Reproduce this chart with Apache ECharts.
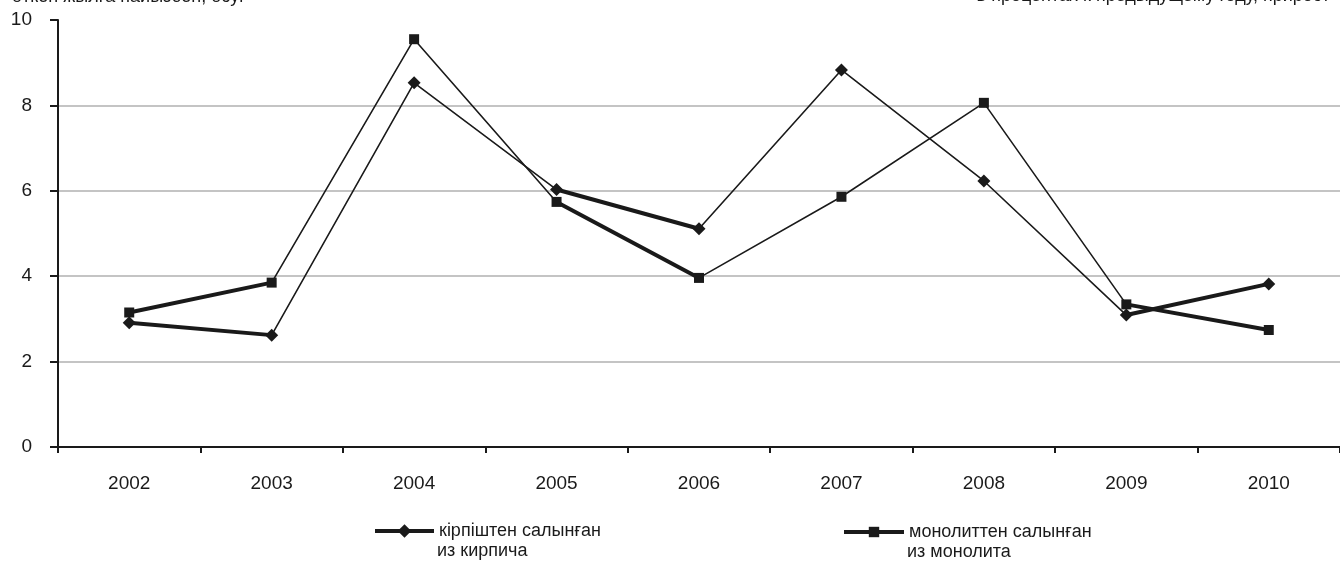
<!DOCTYPE html>
<html>
<head>
<meta charset="utf-8">
<script src="https://cdn.jsdelivr.net/npm/echarts@6/dist/echarts.min.js"></script>
<style>
html,body{margin:0;padding:0;background:#fff;}
#chart{width:1340px;height:561px;}
</style>
</head>
<body>
<div id="chart"></div>
<script>
const years = ['2002','2003','2004','2005','2006','2007','2008','2009','2010'];
const brick = [2.91, 2.62, 8.53, 6.03, 5.11, 8.83, 6.23, 3.09, 3.82];
const monolith = [3.15, 3.85, 9.55, 5.74, 3.96, 5.86, 8.06, 3.34, 2.74];
const brickName = 'кірпіштен салынған';
const brickName2 = 'из кирпича';
const monolithName = 'монолиттен салынған';
const monolithName2 = 'из монолита';
const titleLeft = 'өткен жылға пайызбен, өсуі -';
const titleRight = 'в процентах к предыдущему году, прирост';
const yMin = 0, yMax = 10, yStep = 2;
// segments (start index) drawn with a heavier stroke in the original
const heavySegmentStarts = [0, 3, 7];

function heavyData(values) {
  return values.map((v, i) => heavySegmentStarts.some(s => i === s || i === s + 1) ? v : null);
}

const FONT = '"Liberation Sans", Arial, sans-serif';
const INK = '#1a1a1a';

const chart = echarts.init(document.getElementById('chart'), null, {renderer: 'canvas'});
chart.setOption({
  animation: false,
  backgroundColor: '#fff',
  textStyle: {fontFamily: FONT},
  grid: {left: 58, top: 20, width: 1284, height: 427, containLabel: false},
  graphic: [
    {type: 'text', left: 12, top: -12, style: {text: titleLeft, font: '18px ' + FONT, fill: INK}},
    {type: 'text', right: 10, top: -13, style: {text: titleRight, font: '18px ' + FONT, fill: INK}},
    {type: 'text', left: 437, top: 542, style: {text: brickName2, font: '18px ' + FONT, fill: INK}},
    {type: 'text', left: 907, top: 543, style: {text: monolithName2, font: '18px ' + FONT, fill: INK}}
  ],
  legend: [
    {
      data: [brickName], left: 373, top: 522, padding: 0, itemWidth: 59, itemHeight: 17,
      lineStyle: {width: 4, color: INK},
      textStyle: {fontSize: 18, lineHeight: 17, color: INK, fontFamily: FONT}
    },
    {
      data: [monolithName], left: 842, top: 523, padding: 0, itemWidth: 60, itemHeight: 13,
      lineStyle: {width: 4, color: INK},
      textStyle: {fontSize: 18, lineHeight: 17, color: INK, fontFamily: FONT}
    }
  ],
  xAxis: {
    type: 'category',
    data: years,
    boundaryGap: true,
    axisLine: {show: true, lineStyle: {color: INK, width: 2}},
    axisTick: {show: true, length: 6, inside: false, lineStyle: {color: INK, width: 2}},
    axisLabel: {fontSize: 19, color: INK, margin: 27, fontFamily: FONT},
    splitLine: {show: false}
  },
  yAxis: {
    type: 'value',
    min: yMin, max: yMax, interval: yStep,
    axisLine: {show: true, lineStyle: {color: INK, width: 2}},
    axisTick: {show: true, length: 8, inside: false, lineStyle: {color: INK, width: 2}},
    axisLabel: {fontSize: 19, color: INK, margin: 26, fontFamily: FONT},
    splitLine: {show: true, showMaxLine: false, lineStyle: {color: '#c4c4c4', width: 2}}
  },
  series: [
    {
      name: 'brick-heavy', type: 'line', data: heavyData(brick), showSymbol: false, symbol: 'none',
      connectNulls: false, lineStyle: {color: INK, width: 4}, z: 2, silent: true
    },
    {
      name: 'monolith-heavy', type: 'line', data: heavyData(monolith), showSymbol: false, symbol: 'none',
      connectNulls: false, lineStyle: {color: INK, width: 4}, z: 2, silent: true
    },
    {
      name: brickName, type: 'line', data: brick, symbol: 'diamond', symbolSize: 13,
      itemStyle: {color: INK}, lineStyle: {color: INK, width: 1.6}, z: 3
    },
    {
      name: monolithName, type: 'line', data: monolith, symbol: 'rect', symbolSize: 10,
      itemStyle: {color: INK}, lineStyle: {color: INK, width: 1.6}, z: 3
    }
  ]
});
</script>
</body>
</html>
